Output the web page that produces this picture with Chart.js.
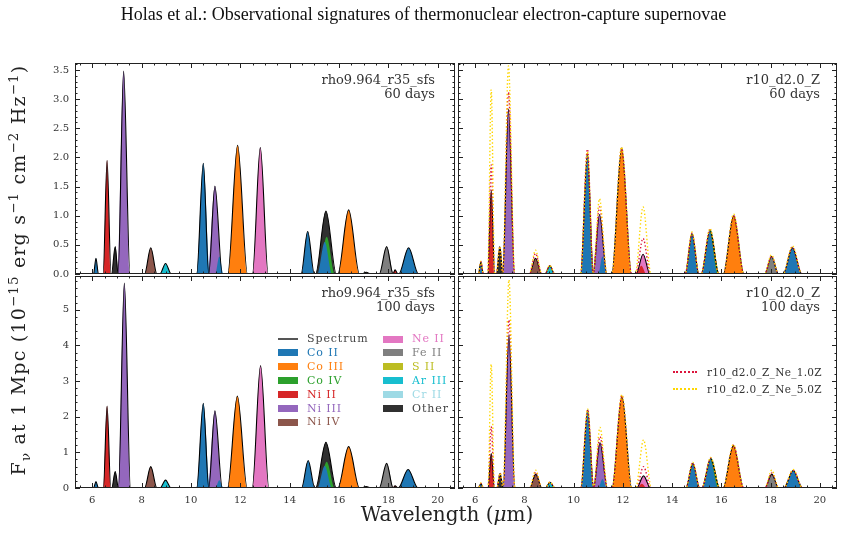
<!DOCTYPE html>
<html>
<head>
<meta charset="utf-8">
<title>Holas et al. - nebular spectra</title>
<script src="https://cdn.jsdelivr.net/npm/chart.js@4.4.1/dist/chart.umd.min.js"></script>
<style>
  body { margin: 0; background: #fff; }
  #fig { position: relative; width: 847px; height: 535px; overflow: hidden; font-family: "DejaVu Serif", serif; color: #222; }
  #fig canvas { position: absolute; left: 0; top: 0; }
  .txt { position: absolute; white-space: nowrap; }
  #title { left: 0; width: 847px; top: 4px; text-align: center; font: 18px "Liberation Serif", serif; color: #111; }
  .tag { text-align: right; font-size: 13px; line-height: 14px; color: #333; }
  #ylab { left: -222px; top: 258px; width: 480px; height: 24px; line-height: 24px; text-align: center; font-size: 19px; letter-spacing: 1.2px; transform: rotate(-90deg); color: #222; }
  #xlab { left: 297px; width: 300px; top: 502px; text-align: center; font-size: 20px; }
  sup, sub { font-size: 70%; line-height: 0; }
  .leg { position: absolute; font-size: 11px; letter-spacing: 0.9px; line-height: 12px; white-space: nowrap; }
  .leg.run { font-size: 10.5px; letter-spacing: 0.3px; }
</style>
</head>
<body>
<div id="fig">
  <canvas id="tl" width="847" height="535"></canvas>
  <canvas id="tr" width="847" height="535"></canvas>
  <canvas id="bl" width="847" height="535"></canvas>
  <canvas id="br" width="847" height="535"></canvas>
  <div class="txt" id="title">Holas et al.: Observational signatures of thermonuclear electron-capture supernovae</div>
  <div class="txt tag" style="right:412px; top:73px;">rho9.964_r35_sfs<br>60 days</div>
  <div class="txt tag" style="right:27px; top:73px;">r10_d2.0_Z<br>60 days</div>
  <div class="txt tag" style="right:412px; top:286px;">rho9.964_r35_sfs<br>100 days</div>
  <div class="txt tag" style="right:27px; top:286px;">r10_d2.0_Z<br>100 days</div>
  <div class="txt" id="ylab">F<sub>ν</sub> at 1 Mpc (10<sup>−15</sup> erg s<sup>−1</sup> cm<sup>−2</sup> Hz<sup>−1</sup>)</div>
  <div class="txt" id="xlab">Wavelength (<i>μ</i>m)</div>
</div>
<script>
// wavelength range and ticks
const xMin = 5.3, xMax = 20.7;
const xTicks = [6, 8, 10, 12, 14, 16, 18, 20];
const topYTicks = [0, 0.5, 1, 1.5, 2, 2.5, 3, 3.5];
const botYTicks = [0, 1, 2, 3, 4, 5];

const speciesNames = ['Co II', 'Co III', 'Co IV', 'Ni II', 'Ni III', 'Ni IV', 'Ne II', 'Fe II', 'S II', 'Ar III', 'Cr II', 'Other'];
const speciesColors = ['#1f77b4', '#ff7f0e', '#2ca02c', '#d62728', '#9467bd', '#8c564b', '#e377c2', '#7f7f7f', '#bcbd22', '#17becf', '#9edae5', '#303030'];

// peaks as [centre (um), height, half width at base (um)]
const tlSpectrum = [[6.15,0.27,0.1],[6.6,1.95,0.16],[6.93,0.47,0.15],[7.27,3.48,0.26],[8.37,0.45,0.25],[8.97,0.18,0.23],[10.5,1.9,0.27],[10.97,1.51,0.3],[11.89,2.21,0.4],[12.81,2.17,0.32],[14.73,0.73,0.27],[15.47,1.08,0.42],[16.39,1.1,0.44],[17.1,0.03,0.2],[17.93,0.47,0.3],[18.27,0.07,0.12],[18.82,0.45,0.4]];
const tlSpecies = [
  [[6.15,0.27,0.1],[10.5,1.9,0.27],[11.15,0.3,0.17],[14.73,0.73,0.27],[15.42,0.55,0.3],[18.82,0.45,0.4]],
  [[11.89,2.21,0.4],[16.39,1.1,0.44]],
  [[15.5,0.64,0.33]],
  [[6.6,1.95,0.16],[18.27,0.07,0.12]],
  [[7.27,3.48,0.26],[10.97,1.51,0.3]],
  [[8.37,0.45,0.25],[17.1,0.03,0.2]],
  [[12.81,2.17,0.32]],
  [[17.93,0.47,0.3]],
  [],
  [[8.97,0.18,0.23]],
  [],
  [[6.93,0.47,0.15],[15.47,1.08,0.42]]
];

const trSpectrum = [[6.23,0.21,0.1],[6.65,1.44,0.14],[7.0,0.47,0.14],[7.35,2.83,0.25],[8.45,0.27,0.25],[9.03,0.14,0.2],[10.56,2.07,0.28],[11.05,1.02,0.3],[11.95,2.16,0.4],[12.82,0.34,0.28],[14.81,0.69,0.28],[15.54,0.75,0.36],[16.5,1.0,0.42],[18.04,0.3,0.28],[18.89,0.45,0.38]];
const trNe1 = [[6.23,0.21,0.1],[6.65,1.87,0.14],[7.0,0.47,0.14],[7.35,3.12,0.25],[8.45,0.35,0.25],[9.03,0.14,0.2],[10.56,2.14,0.28],[11.05,1.15,0.3],[11.95,2.16,0.4],[12.82,0.61,0.3],[14.81,0.7,0.28],[15.54,0.76,0.36],[16.5,1.01,0.42],[18.04,0.31,0.28],[18.89,0.46,0.38]];
const trNe5 = [[6.23,0.22,0.1],[6.65,3.16,0.14],[7.0,0.47,0.14],[7.35,3.57,0.25],[8.45,0.41,0.25],[9.03,0.15,0.2],[10.56,2.1,0.28],[11.05,1.29,0.3],[11.95,2.18,0.4],[12.82,1.15,0.32],[14.81,0.72,0.28],[15.54,0.78,0.36],[16.5,1.03,0.42],[18.04,0.33,0.28],[18.89,0.48,0.38]];
const trSpecies = [
  [[6.23,0.21,0.1],[10.56,2.07,0.28],[11.17,0.3,0.17],[14.81,0.69,0.28],[15.52,0.72,0.33],[18.89,0.45,0.38]],
  [[11.95,2.16,0.4],[16.5,1.0,0.42]],
  [[15.57,0.75,0.36]],
  [[6.65,1.44,0.14],[12.75,0.14,0.2]],
  [[7.35,2.83,0.25],[11.05,1.02,0.3]],
  [[8.45,0.27,0.25]],
  [[12.82,0.34,0.28]],
  [[18.04,0.3,0.28]],
  [],
  [[9.03,0.14,0.2]],
  [],
  [[7.0,0.47,0.14]]
];

const blSpectrum = [[6.15,0.18,0.1],[6.6,2.3,0.15],[6.93,0.46,0.14],[7.3,5.75,0.25],[8.37,0.6,0.25],[8.97,0.22,0.22],[10.5,2.38,0.27],[10.97,2.17,0.3],[11.88,2.58,0.4],[12.82,3.44,0.34],[14.75,0.77,0.27],[15.47,1.28,0.42],[16.39,1.16,0.44],[17.1,0.04,0.2],[17.93,0.69,0.3],[18.27,0.06,0.12],[18.8,0.52,0.4]];
const blSpecies = [
  [[6.15,0.18,0.1],[10.5,2.38,0.27],[11.15,0.22,0.17],[14.75,0.77,0.27],[15.42,0.62,0.3],[18.8,0.52,0.4]],
  [[11.88,2.58,0.4],[16.39,1.16,0.44]],
  [[15.5,0.74,0.33]],
  [[6.6,2.3,0.15],[18.27,0.06,0.12]],
  [[7.3,5.75,0.25],[10.97,2.17,0.3]],
  [[8.37,0.6,0.25],[17.1,0.04,0.2]],
  [[12.82,3.44,0.34]],
  [[17.93,0.69,0.3]],
  [],
  [[8.97,0.22,0.22]],
  [],
  [[6.93,0.46,0.14],[15.47,1.28,0.42]]
];

const brSpectrum = [[6.23,0.13,0.1],[6.65,0.97,0.13],[7.01,0.41,0.13],[7.37,4.3,0.24],[8.46,0.39,0.25],[9.04,0.16,0.2],[10.57,2.19,0.28],[11.07,1.27,0.3],[11.96,2.59,0.4],[12.84,0.34,0.28],[14.84,0.69,0.28],[15.57,0.83,0.36],[16.49,1.19,0.42],[18.05,0.39,0.28],[18.92,0.49,0.38]];
const brNe1 = [[6.23,0.13,0.1],[6.65,1.72,0.13],[7.01,0.41,0.13],[7.37,4.72,0.24],[8.46,0.45,0.25],[9.04,0.16,0.2],[10.57,2.2,0.28],[11.07,1.44,0.3],[11.96,2.6,0.4],[12.84,0.6,0.3],[14.84,0.7,0.28],[15.57,0.84,0.36],[16.49,1.2,0.42],[18.05,0.42,0.28],[18.92,0.5,0.38]];
const brNe5 = [[6.23,0.14,0.1],[6.65,3.47,0.13],[7.01,0.42,0.13],[7.37,5.84,0.24],[8.46,0.5,0.25],[9.04,0.17,0.2],[10.57,2.22,0.28],[11.07,1.7,0.3],[11.96,2.62,0.4],[12.84,1.35,0.32],[14.84,0.72,0.28],[15.57,0.86,0.36],[16.49,1.22,0.42],[18.05,0.5,0.28],[18.92,0.52,0.38]];
const brSpecies = [
  [[6.23,0.13,0.1],[10.57,2.19,0.28],[11.17,0.25,0.17],[14.84,0.69,0.28],[15.54,0.8,0.33],[18.92,0.49,0.38]],
  [[11.96,2.59,0.4],[16.49,1.19,0.42]],
  [[15.6,0.83,0.36]],
  [[6.65,0.97,0.13],[12.77,0.12,0.2]],
  [[7.37,4.3,0.24],[11.07,1.27,0.3]],
  [[8.46,0.39,0.25]],
  [[12.84,0.34,0.28]],
  [[18.05,0.39,0.28]],
  [],
  [[9.04,0.16,0.2]],
  [],
  [[7.01,0.41,0.13]]
];

// peak list -> line points (base, top, base); touching bases share one valley point
function curve(peaks) {
  const pts = [{x: xMin, y: 0}];
  peaks.forEach(([c, h, w]) => {
    const last = pts[pts.length - 1];
    if (c - w <= last.x) last.x = (last.x + c - w) / 2;
    else pts.push({x: c - w, y: 0});
    pts.push({x: c, y: h}, {x: c + w, y: 0});
  });
  pts.push({x: xMax, y: 0});
  return pts;
}

// frame with inward ticks on all four sides
const frameTicks = {
  id: 'frameTicks',
  afterDraw(chart, args, o) {
    const {ctx, chartArea: a} = chart;
    const sx = chart.scales.x, sy = chart.scales.y;
    const steps = (min, max, st) => {
      const out = [];
      for (let i = Math.ceil(min / st - 1e-9); i * st <= max + 1e-9; i++) out.push(i * st);
      return out;
    };
    const major = (v, m) => Math.abs(v / m - Math.round(v / m)) < 1e-6;
    ctx.save();
    ctx.strokeStyle = '#222';
    ctx.lineWidth = 1;
    ctx.beginPath();
    steps(sx.min, sx.max, o.xMinor).forEach(v => {
      const p = Math.round(sx.getPixelForValue(v)) + 0.5;
      const len = major(v, o.xMajor) ? 5 : 2.5;
      ctx.moveTo(p, a.bottom); ctx.lineTo(p, a.bottom - len);
      ctx.moveTo(p, a.top); ctx.lineTo(p, a.top + len);
    });
    steps(sy.min, sy.max, o.yMinor).forEach(v => {
      const p = Math.round(sy.getPixelForValue(v)) + 0.5;
      const len = major(v, o.yMajor) ? 5 : 2.5;
      ctx.moveTo(a.left, p); ctx.lineTo(a.left + len, p);
      ctx.moveTo(a.right, p); ctx.lineTo(a.right - len, p);
    });
    ctx.stroke();
    ctx.strokeRect(a.left + 0.5, a.top + 0.5, a.width - 1, a.height - 1);
    ctx.restore();
  }
};

const tickFont = {family: 'DejaVu Serif', size: 10};

function panel(id, pad, yMax, yTicks, yMajor, yMinor, spec, species, extra, showX, showY) {
  const ds = [];
  if (extra) {
    ds.push({label: 'r10_d2.0_Z_Ne_5.0Z', data: curve(extra[1]), borderColor: '#ffd700', borderWidth: 1.4, borderDash: [1.4, 2.2], fill: false, pointRadius: 0, cubicInterpolationMode: 'monotone'});
    ds.push({label: 'r10_d2.0_Z_Ne_1.0Z', data: curve(extra[0]), borderColor: '#dc143c', borderWidth: 1.4, borderDash: [1.4, 2.2], fill: false, pointRadius: 0, cubicInterpolationMode: 'monotone'});
  }
  ds.push({label: 'Spectrum', data: curve(spec), borderColor: '#000', borderWidth: 1.1, fill: false, pointRadius: 0, cubicInterpolationMode: 'monotone'});
  species.forEach((pk, i) => {
    if (!pk.length) return;
    ds.push({label: speciesNames[i], data: curve(pk), backgroundColor: speciesColors[i], borderColor: 'transparent', borderWidth: 0, fill: 'origin', pointRadius: 0, cubicInterpolationMode: 'monotone'});
  });

  new Chart(document.getElementById(id), {
    type: 'line',
    data: {datasets: ds},
    options: {
      responsive: false,
      animation: false,
      devicePixelRatio: 1,
      events: [],
      layout: {padding: pad, autoPadding: false},
      plugins: {
        legend: {display: false},
        tooltip: {enabled: false},
        frameTicks: {xMinor: 0.5, xMajor: 2, yMinor: yMinor, yMajor: yMajor}
      },
      scales: {
        x: {
          type: 'linear', min: xMin, max: xMax, display: showX,
          afterFit: s => { s.height = showX ? 22 : 0; },
          afterBuildTicks: s => { s.ticks = xTicks.map(v => ({value: v})); },
          grid: {display: false, drawTicks: false},
          border: {display: false},
          ticks: {font: tickFont, color: '#333', padding: 6, maxRotation: 0, autoSkip: false, callback: v => String(v)}
        },
        y: {
          type: 'linear', min: 0, max: yMax, display: showY,
          afterFit: s => { s.width = showY ? 40 : 0; },
          afterBuildTicks: s => { s.ticks = yTicks.map(v => ({value: v})); },
          grid: {display: false, drawTicks: false},
          border: {display: false},
          ticks: {font: tickFont, color: '#333', padding: 6, autoSkip: false,
            callback: v => yMajor < 1 ? v.toFixed(1) : String(v)}
        }
      }
    },
    plugins: [frameTicks]
  });
}

// chart areas: left panels x 75-455, right panels x 458-837; top y 63-274, bottom y 276-488
panel('tl', {left: 35, top: 63, right: 392, bottom: 261}, 3.62, topYTicks, 0.5, 0.1, tlSpectrum, tlSpecies, null, false, true);
panel('tr', {left: 458, top: 63, right: 10, bottom: 261}, 3.62, topYTicks, 0.5, 0.1, trSpectrum, trSpecies, [trNe1, trNe5], false, false);
panel('bl', {left: 35, top: 276, right: 392, bottom: 25}, 5.95, botYTicks, 1, 0.2, blSpectrum, blSpecies, null, true, true);
panel('br', {left: 458, top: 276, right: 10, bottom: 25}, 5.95, botYTicks, 1, 0.2, brSpectrum, brSpecies, [brNe1, brNe5], true, false);

// legends
const fig = document.getElementById('fig');
function addLeg(html, left, top, color, cls) {
  const d = document.createElement('div');
  d.className = 'leg' + (cls ? ' ' + cls : '');
  d.style.left = left + 'px';
  d.style.top = (top - 6) + 'px';
  d.style.color = color;
  d.innerHTML = html;
  fig.appendChild(d);
}
function addBox(left, top, css) {
  const d = document.createElement('div');
  d.style.position = 'absolute';
  d.style.left = left + 'px';
  d.style.top = top + 'px';
  d.style.cssText += css;
  fig.appendChild(d);
}
const rowH = 13.9, row0 = 339;
addBox(278, row0 - 1, 'width:20px;height:0;border-top:2px solid #555;');
addLeg('Spectrum', 307, row0, '#444');
speciesNames.forEach((n, i) => {
  const col = i < 6 ? 0 : 1;
  const r = col === 0 ? i + 1 : i - 6;
  const y = row0 + r * rowH;
  const sx = col === 0 ? 278 : 383;
  addBox(sx, y - 3.5, 'width:20px;height:7px;background:' + speciesColors[i] + ';');
  addLeg(n, sx + 29, y, i === 11 ? '#444' : speciesColors[i]);
});
addBox(673, 371, 'width:24px;height:0;border-top:2px dotted #dc143c;');
addLeg('r10_d2.0_Z_Ne_1.0Z', 707, 372, '#333', 'run');
addBox(673, 388, 'width:24px;height:0;border-top:2px dotted #ffd700;');
addLeg('r10_d2.0_Z_Ne_5.0Z', 707, 389, '#333', 'run');
</script>
</body>
</html>
